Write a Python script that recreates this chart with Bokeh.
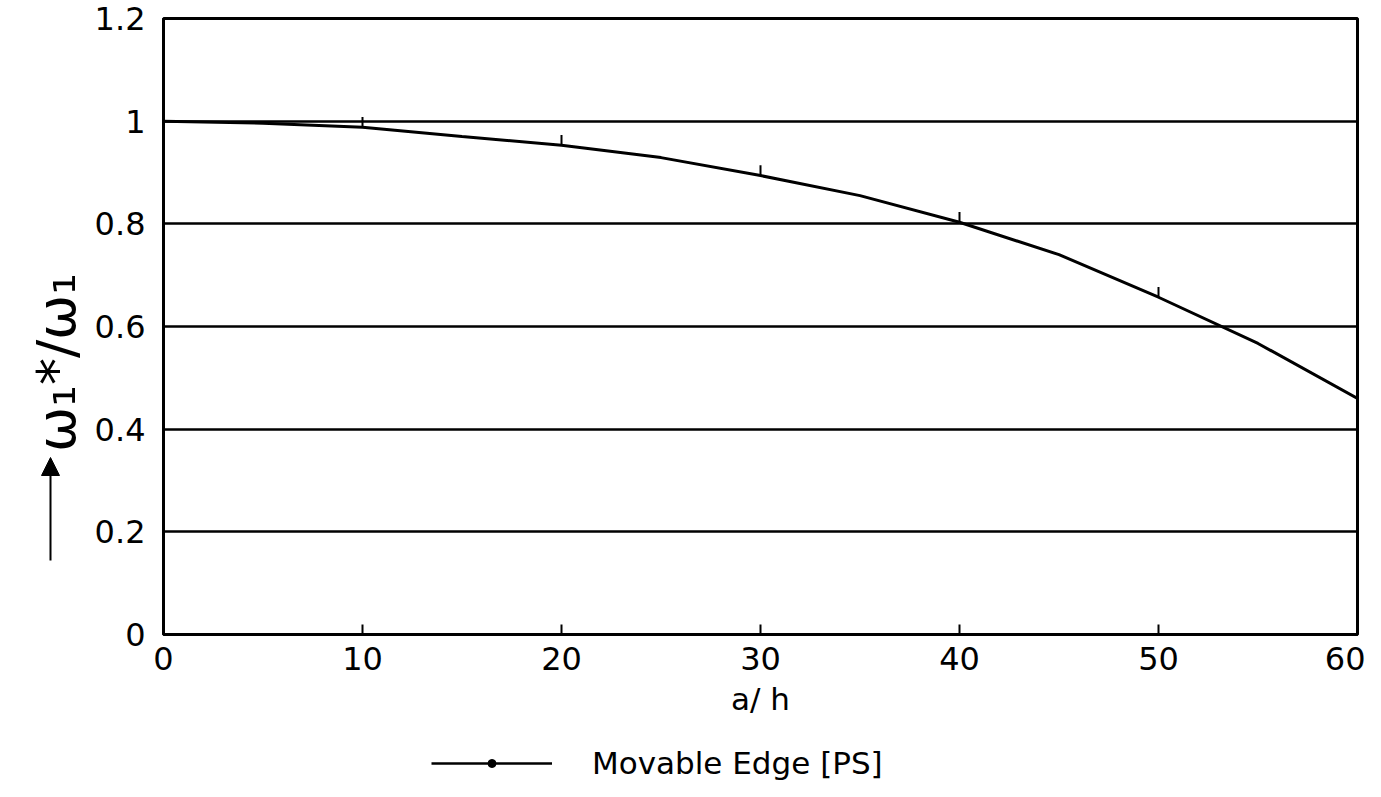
import math
from bokeh.plotting import figure
from bokeh.layouts import row, column
from bokeh.models import Legend, LegendItem, Arrow, NormalHead, FixedTicker
from bokeh.core.properties import value
from bokeh.embed import file_html
from bokeh.resources import INLINE

# ---- data ----
curve_x = [0, 5, 10, 15, 20, 25, 30, 35, 40, 45, 50, 55, 60]
curve_y = [1.0, 0.996, 0.988, 0.970, 0.953, 0.929, 0.894, 0.855, 0.803, 0.740, 0.657, 0.567, 0.46]
mark_x = [10, 20, 30, 40, 50]
mark_y = [0.988, 0.953, 0.894, 0.803, 0.657]
x_ticks = [0, 10, 20, 30, 40, 50, 60]
y_ticks = [0, 0.2, 0.4, 0.6, 0.8, 1.0, 1.2]
y_tick_labels = ["0", "0.2", "0.4", "0.6", "0.8", "1", "1.2"]
series_name = "Movable Edge [PS]"
x_label = "a/ h"
y_label = "ω₁*/ω₁"

FONT = "DejaVu Sans"
H = 781          # total height
LAB_W = 90       # width of the y-title strip
MAIN_H = 734     # height of the main chart canvas
MAIN_W = 73 + 1194 + 8

# ---- main chart ----
p = figure(frame_width=1194, frame_height=616, x_range=(0, 60), y_range=(0, 1.2),
           output_backend="svg", toolbar_location=None,
           min_border_left=73, min_border_right=8, min_border_top=18,
           min_border_bottom=MAIN_H - 18 - 616,
           background_fill_color="white", border_fill_color="white")

p.outline_line_color = "black"
p.outline_line_width = 3

xa = p.xaxis[0]
xa.ticker = FixedTicker(ticks=x_ticks)
xa.major_tick_in = 10
xa.major_tick_out = 0
xa.major_tick_line_width = 2
xa.minor_tick_line_color = None
xa.axis_line_width = 3
xa.major_label_text_font = FONT
xa.major_label_text_font_size = "32px"
xa.major_label_text_color = "black"
xa.major_label_standoff = 12
xa.axis_label = x_label
xa.axis_label_text_font = FONT
xa.axis_label_text_font_style = "normal"
xa.axis_label_text_font_size = "31px"
xa.axis_label_text_color = "black"
xa.axis_label_standoff = 8

ya = p.yaxis[0]
ya.ticker = FixedTicker(ticks=y_ticks)
ya.major_label_overrides = dict(zip(y_ticks, y_tick_labels))
ya.major_tick_in = 0
ya.major_tick_out = 0
ya.minor_tick_line_color = None
ya.axis_line_width = 3
ya.major_label_text_font = FONT
ya.major_label_text_font_size = "32px"
ya.major_label_text_color = "black"
ya.major_label_standoff = 18

p.xgrid.visible = False
p.ygrid.ticker = FixedTicker(ticks=y_ticks)
p.ygrid.grid_line_color = "black"
p.ygrid.grid_line_width = 2.5

p.line(curve_x, curve_y, line_color="black", line_width=3)
p.segment(x0=mark_x, y0=mark_y, x1=mark_x, y1=[v + 0.02 for v in mark_y],
          line_color="black", line_width=2)

# ---- legend strip below the chart ----
leg = figure(frame_width=MAIN_W, frame_height=H - MAIN_H, x_range=(0, 1), y_range=(0, 1),
             output_backend="svg", toolbar_location=None,
             x_axis_location=None, y_axis_location=None, min_border=0,
             background_fill_color="white", border_fill_color="white")
leg.outline_line_color = None
leg.grid.visible = False
# legend-only renderers (points placed outside the visible range)
lr = leg.line(x=[-2, -1], y=[-2, -2], line_color="black", line_width=2.5)
ld = leg.scatter(x=[-2], y=[-2], marker="circle", size=8, color="black")
legend = Legend(items=[LegendItem(label=series_name, renderers=[lr, ld])],
                location=(431 - LAB_W, 0), orientation="horizontal",
                glyph_width=121, glyph_height=20, label_standoff=40,
                label_text_font=FONT, label_text_font_size="31px",
                label_text_color="black",
                border_line_color=None, background_fill_alpha=0,
                padding=0, margin=0)
leg.add_layout(legend)

# ---- y-axis title strip (rotated title with upward arrow) ----
lab = figure(frame_width=LAB_W, frame_height=H, x_range=(0, LAB_W), y_range=(0, H),
             output_backend="svg", toolbar_location=None,
             x_axis_location=None, y_axis_location=None, min_border=0,
             background_fill_color="white", border_fill_color="white")
lab.outline_line_color = None
lab.grid.visible = False
lab.text(x=[56], y=[H - 362], text=[y_label], angle=math.pi / 2,
         text_align="center", text_baseline="middle",
         text_font=value(FONT), text_font_size="54px", text_color="black")
lab.add_layout(Arrow(end=NormalHead(size=18, fill_color="black", line_color="black"),
                     x_start=50, y_start=H - 560, x_end=50, y_end=H - 457,
                     line_color="black", line_width=2))

layout = row(lab, column(p, leg, spacing=0), spacing=0)
open("out.html", "w").write(file_html(layout, INLINE))
